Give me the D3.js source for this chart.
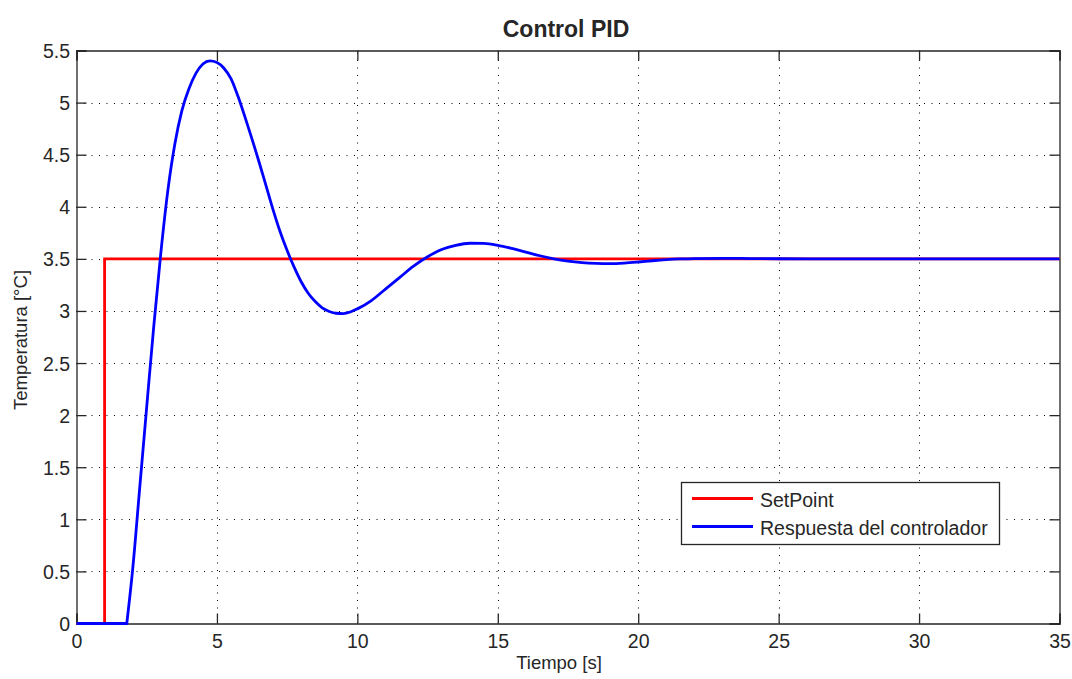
<!DOCTYPE html>
<html>
<head>
<meta charset="utf-8">
<script src="https://cdn.jsdelivr.net/npm/d3@7"></script>
<style>
  html, body { margin: 0; padding: 0; background: #fff; }
  svg { display: block; }
  text { font-family: "Liberation Sans", Arial, Helvetica, sans-serif; fill: #262626; }
</style>
</head>
<body>
<svg id="chart" width="1072" height="679"></svg>
<script>
// ---- data ----
const setpointTime  = [0, 1, 1, 35];
const setpointValue = [0, 0, 3.5, 3.5];

const responseTime  = [0, 1.79, 2.0, 2.25, 2.5, 2.75, 3.0, 3.25, 3.5, 3.75, 4.0, 4.25, 4.5, 4.75,
  5.0, 5.25, 5.5, 5.75, 6.0, 6.25, 6.5, 6.75, 7.0, 7.25, 7.5, 7.75, 8.0, 8.25, 8.5, 8.75, 9.0, 9.25, 9.5, 9.75,
  10.0, 10.5, 11.0, 11.5, 12.0, 12.5, 13.0, 13.5, 14.0, 14.5, 15.0, 15.5, 16.0, 16.5,
  17.0, 17.5, 18.0, 18.5, 19.0, 19.5, 20.0, 20.5, 21.0, 21.5, 22.0, 23, 24, 25, 27, 30, 35];
const responseValue = [0, 0, 0.52, 1.3, 2.08, 2.85, 3.55, 4.15, 4.6, 4.92, 5.13, 5.28, 5.37, 5.40,
  5.385, 5.33, 5.23, 5.06, 4.86, 4.65, 4.43, 4.20, 3.97, 3.76, 3.58, 3.42, 3.28, 3.17, 3.09, 3.03, 2.995, 2.978, 2.975, 2.99,
  3.02, 3.10, 3.21, 3.32, 3.43, 3.52, 3.59, 3.63, 3.65, 3.648, 3.63, 3.60, 3.565, 3.53,
  3.50, 3.478, 3.464, 3.457, 3.455, 3.46, 3.47, 3.482, 3.492, 3.499, 3.503, 3.505, 3.503, 3.501, 3.5, 3.5, 3.5];

const xTicks = [0, 5, 10, 15, 20, 25, 30, 35];
const yTicks = [0, 0.5, 1, 1.5, 2, 2.5, 3, 3.5, 4, 4.5, 5, 5.5];
const seriesNames = ["SetPoint", "Respuesta del controlador"];
const seriesColors = ["#ff0000", "#0000ff"];
const titleText = "Control PID";
const xLabelText = "Tiempo [s]";
const yLabelText = "Temperatura [°C]";

// ---- layout ----
const L = 76.5, R = 1059.5, T = 50.5, B = 623.5;
const svg = d3.select("#chart");
const x = d3.scaleLinear().domain([0, 35]).range([L, R]);
const y = d3.scaleLinear().domain([0, 5.5]).range([B, T]);

// grid
const grid = svg.append("g").attr("stroke", "#000").attr("stroke-width", 1)
  .attr("stroke-dasharray", "1,6.5").attr("fill", "none");
xTicks.slice(1, -1).forEach(t => {
  grid.append("line").attr("x1", Math.round(x(t)) + 0.5).attr("x2", Math.round(x(t)) + 0.5)
    .attr("y1", B).attr("y2", T);
});
yTicks.slice(1, -1).forEach(v => {
  grid.append("line").attr("y1", Math.round(y(v)) + 0.5).attr("y2", Math.round(y(v)) + 0.5)
    .attr("x1", L).attr("x2", R);
});

// axes (ticks inward, on all four sides)
const tickLen = 10;
const axB = svg.append("g").attr("transform", `translate(0,${B})`)
  .call(d3.axisBottom(x).tickValues(xTicks).tickSize(-tickLen).tickPadding(11).tickFormat(d3.format("d")));
const axT = svg.append("g").attr("transform", `translate(0,${T})`)
  .call(d3.axisTop(x).tickValues(xTicks).tickSize(-tickLen).tickFormat(""));
const axL = svg.append("g").attr("transform", `translate(${L},0)`)
  .call(d3.axisLeft(y).tickValues(yTicks).tickSize(-tickLen).tickPadding(6.5).tickFormat(d => String(d)));
const axR = svg.append("g").attr("transform", `translate(${R},0)`)
  .call(d3.axisRight(y).tickValues(yTicks).tickSize(-tickLen).tickFormat(""));
[axB, axT, axL, axR].forEach(a => {
  a.select(".domain").attr("stroke", "#262626").attr("stroke-width", 1.3);
  a.selectAll(".tick line").attr("stroke", "#262626").attr("stroke-width", 1.3);
  a.selectAll(".tick text").style("font-size", "19.5px")
    .style("font-family", '"Liberation Sans", Arial, sans-serif').attr("fill", "#262626");
});
axL.selectAll(".tick text").attr("dy", "0.36em");

// lines
const spData = setpointTime.map((t, i) => [t, setpointValue[i]]);
const rsData = responseTime.map((t, i) => [t, responseValue[i]]);
svg.append("path").datum(spData)
  .attr("d", d3.line().x(d => x(d[0])).y(d => y(d[1])).curve(d3.curveLinear))
  .attr("fill", "none").attr("stroke", seriesColors[0]).attr("stroke-width", 2.8);
// flat dead-time part drawn linear (sharp corner), rest smooth
const flatPart = d3.line().x(d => x(d[0])).y(d => y(d[1])).curve(d3.curveLinear)(rsData.slice(0, 2));
const smoothPart = d3.line().x(d => x(d[0])).y(d => y(d[1])).curve(d3.curveMonotoneX)(rsData.slice(1));
svg.append("path")
  .attr("d", flatPart + smoothPart.replace(/^M/, "L"))
  .attr("fill", "none").attr("stroke", seriesColors[1]).attr("stroke-width", 2.8)
  .attr("stroke-linejoin", "round");

// title and labels
svg.append("text").attr("x", 566).attr("y", 37).attr("text-anchor", "middle")
  .style("font-size", "23px").style("font-weight", "bold").attr("fill", "#000").text(titleText);
svg.append("text").attr("x", 559).attr("y", 669).attr("text-anchor", "middle")
  .style("font-size", "18.5px").text(xLabelText);
svg.append("text").attr("transform", "translate(27,340) rotate(-90)").attr("text-anchor", "middle")
  .style("font-size", "18.5px").text(yLabelText);

// legend
const lg = svg.append("g");
lg.append("rect").attr("x", 681.5).attr("y", 482.5).attr("width", 318).attr("height", 62)
  .attr("fill", "#fff").attr("stroke", "#262626").attr("stroke-width", 1.3);
const rowsY = [498.5, 526.5];
seriesNames.forEach((n, i) => {
  lg.append("line").attr("x1", 692).attr("x2", 753).attr("y1", rowsY[i]).attr("y2", rowsY[i])
    .attr("stroke", seriesColors[i]).attr("stroke-width", 2.8);
  lg.append("text").attr("x", 760).attr("y", rowsY[i] + 8).style("font-size", "19.5px").text(n);
});
</script>
</body>
</html>
